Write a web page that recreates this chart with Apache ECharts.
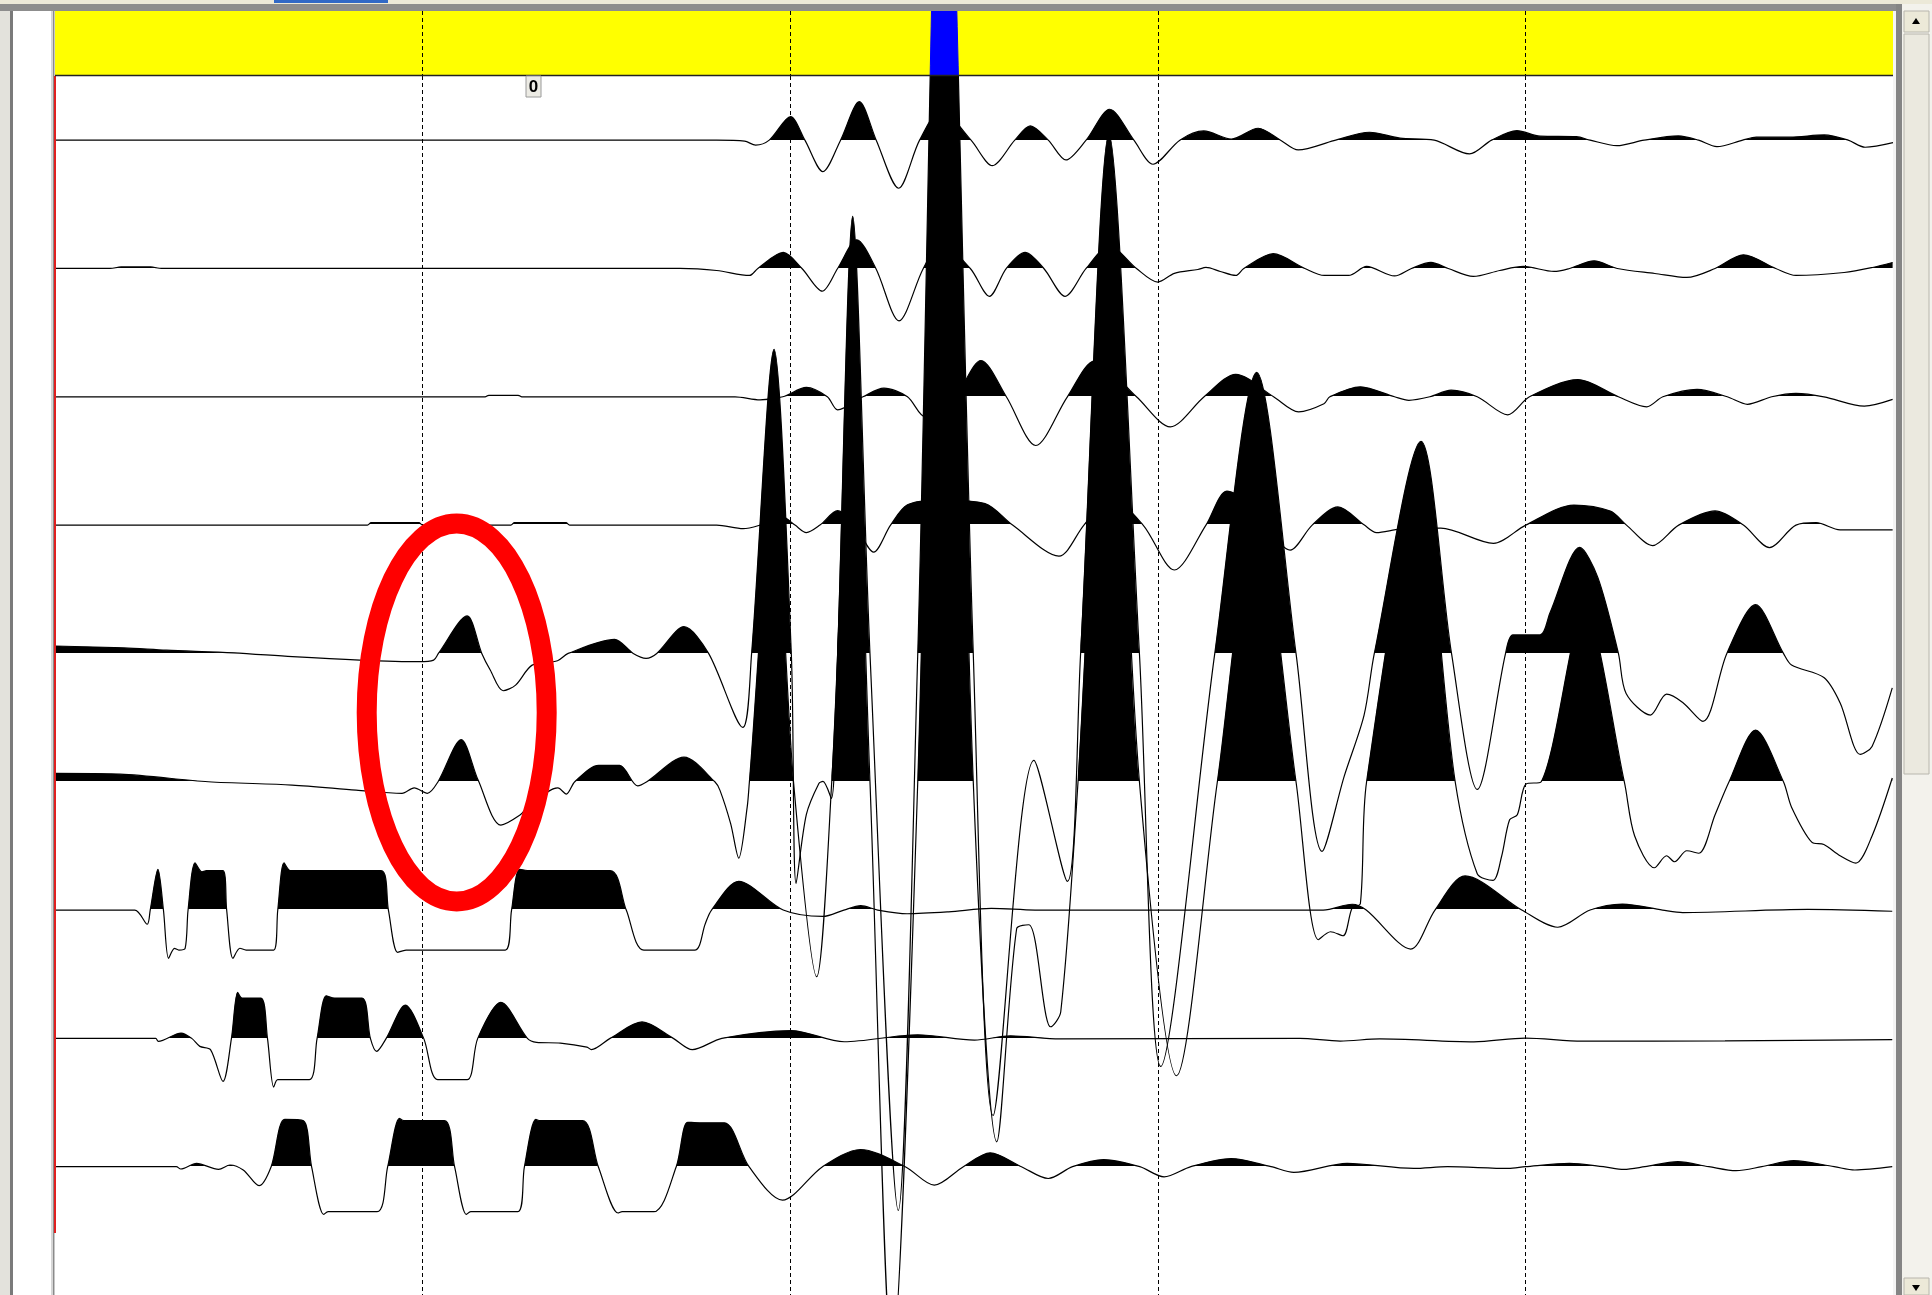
<!DOCTYPE html>
<html><head><meta charset="utf-8">
<script src="https://cdn.jsdelivr.net/npm/echarts@6/dist/echarts.min.js"></script>
<style>html,body{margin:0;padding:0;background:#e6e4da;overflow:hidden}#c{width:1932px;height:1295px}</style>
</head><body><div id="c"></div>
<script>
// ---- axis / layout constants ----
const TIME_MIN = 0, TIME_MAX = 500, TIME_STEP = 100;   // ms, dashed lines every 100 ms
const AMP_PER_TRACE = 128.3;                           // amplitude units per trace spacing
const traceBaselines = [1, 2, 3, 4, 5, 6, 7, 8, 9];
const zeroLabel = '0';

// ---- trace data: [time ms, amplitude] ----
const trace1 = [[0,0],[180,0],[187.6,-1],[190.6,-5],[194.3,0],[200.1,23.5],[204.0,0],[208.9,-31.5],[213.7,0],[218.8,38.5],[223.4,0],[229.5,-48.1],[235.2,0],[241.0,30],[249.2,0],[255.0,-25.5],[261.1,0],[265.3,14.2],[270.2,0],[275.0,-19.8],[280.5,0],[286.9,30.9],[293.5,0],[298.7,-24.1],[306.0,0],[312.5,9.2],[320.0,1],[327.3,11.9],[333.4,0],[338.2,-9.8],[347.9,-0.5],[357.6,7.9],[365.9,2],[375.2,0],[384.8,-13.8],[390.8,0],[397.7,9.5],[404,4],[413.9,3.5],[417.6,0],[424.9,-5.5],[432.3,0],[441.6,4.2],[447.1,0],[452.1,-6.5],[459.1,0],[462.8,3],[472,3],[481.3,5.2],[487.8,0],[492.4,-7.1],[500,-2.5]];
const trace2 = [[0,0],[15,0],[18,1.5],[26,1.5],[29,0],[170,0],[180,-2],[188.9,-7],[191.2,0],[198.1,16],[203.2,0],[208.7,-22.7],[212.9,0],[218.1,28.7],[223.3,0],[229.6,-52.4],[236.2,0],[241.0,25],[249.0,0],[254.2,-27.9],[258.8,0],[263.9,16],[269.0,0],[274.8,-27.9],[280.5,0],[286.8,22.7],[294.2,0],[300.0,-13.6],[304.5,-4.9],[310.9,-1],[313.1,1],[317,-3],[321.2,-7],[323.4,0],[331.4,14.8],[340.0,0],[345.3,-7],[351.9,-7],[356.8,2],[364.4,-7.5],[369,0],[374.3,6],[379,0],[385.8,-8],[393,-2],[399.5,2],[407.8,-3],[412,0],[418.7,7.6],[425,0],[435.2,-5],[443.9,-9],[451.6,0],[459.3,13.6],[468.1,0],[473.6,-7],[486.7,-4],[494.4,1],[499.9,6]];
const trace3 = [[0,0],[117,0],[118,1.5],[126,1.5],[127,0],[185,0],[191.8,-3],[198.0,0],[204.4,9.4],[210.1,0],[212.9,-13],[219.8,0],[225.5,8.6],[231.9,0],[236.7,-20],[244.8,0],[251.9,36.3],[258.8,0],[266.8,-48.7],[275.4,0],[282.9,36],[294.2,0],[303.4,-30.1],[312.6,0],[321.2,22.5],[331.5,0],[338.3,-15.1],[345.2,-7],[346.8,0],[355.1,10],[364.4,0],[368.3,-3.5],[374,0],[379.8,6.6],[386.9,0],[395.2,-18],[401.1,0],[414.3,17.2],[425.3,0],[433.0,-10],[437.4,0],[446.7,7.4],[454.9,0],[460.4,-7.5],[467,0],[473.6,3.4],[481.2,0],[492.2,-9.3],[499.9,-2.6]];
const trace4 = [[0,0],[85,0],[86,2.5],[99,2.5],[100,0],[124,0],[125,2.5],[139,2.5],[140,0],[180,0],[187.2,-3.6],[191.8,0],[198.0,8],[201.3,0],[204.4,-7.5],[208.1,0],[212.9,14.4],[217.6,0],[222.7,-27],[227.3,0],[231.9,20.3],[241.0,25],[253.0,21.5],[260.5,0],[273.1,-31],[279.9,0],[287.0,28],[296.0,0],[304.5,-44.9],[313.1,0],[318.8,34],[324,25],[329.2,0],[336.0,-25],[342.0,0],[349.0,18.2],[356.2,0],[359.5,-7.5],[365.9,-4],[377.0,-3],[391.3,-18.2],[400.1,0],[413.2,20],[423.1,14],[427.5,0],[434.6,-20.5],[441.7,0],[451.6,14.2],[459.3,0],[466.4,-22.5],[473.6,0],[479.1,2.4],[485.6,-4.7],[499.9,-4.7]];
const trace5 = [[0,7.4],[18.8,5.5],[30.3,3.2],[48.6,0.6],[64.6,-3.3],[82.9,-6.7],[99.0,-8.3],[103.0,-6.7],[104.3,0],[112.1,37.5],[116.1,0],[118.4,-16.6],[121.9,-37.3],[125.3,-31.7],[129.8,-11.7],[136.7,-7.3],[139.6,0],[152.2,14],[157.3,0],[160.8,-4.9],[163.7,0],[171.1,26.7],[177.8,0],[187.1,-74],[189.5,0],[195.6,304],[200.3,0],[201.6,-230],[204.4,-161],[207.8,-130],[208.9,-128],[211.2,-145],[212.9,0],[217.0,437],[221.7,0],[229.4,-557],[234.7,0],[241.7,990],[249.8,0],[255.2,-462],[266.3,-107],[275.4,-228],[279.0,0],[286.7,519],[295.0,0],[300.8,-413],[315.5,0],[326.9,281],[337.6,0],[344.7,-198],[350.7,-123],[356.1,-62],[358.9,0],[371.6,212],[379.9,0],[386.9,-136],[394.6,0],[396.6,18.5],[404.0,18.5],[406.7,40.7],[414.8,106],[419.7,76],[425.3,0],[427.4,-40],[434.0,-61.6],[438.4,-40.7],[442.8,-49],[448.3,-68],[454.8,0],[462.6,48.7],[470.2,0],[472.4,-11.6],[481.2,-24.1],[485.6,-49.3],[491.1,-101],[494.3,-93],[499.8,-34.5]];
const trace6 = [[0,8.4],[17.7,7.6],[41.7,0],[64.5,-3.3],[81.9,-8.4],[94.4,-11.6],[97.7,-6.2],[101.3,-11.6],[104.2,0],[110.5,42.1],[115.1,1.7],[121.3,-43.4],[126.5,-33.3],[128.8,-24.6],[136.8,-6.2],[139.1,-12.3],[141.4,0],[147.9,16.4],[153.6,16.4],[158.5,-4.1],[161.0,0],[171.1,24.6],[179.5,0],[180.9,-8.6],[183.8,-41.9],[186.0,-76.4],[188.3,-25.4],[188.9,0],[195.5,290],[200.9,0],[207.2,-195],[211.3,0],[217.0,419],[221.7,0],[227.7,-579],[234.7,0],[241.7,973],[249.8,0],[256.2,-360],[261.6,-147],[264.9,-143],[269.6,-234],[270.8,-245],[273.6,-230],[278.3,0],[286.7,505],[295.0,0],[305.1,-294],[316.2,0],[326.9,271],[337.6,0],[343.7,-158],[347.0,-150],[350.4,-154],[352.9,-126],[355.1,-122],[356.8,0],[371.1,283],[380.9,0],[386.9,-92],[391.2,-98.6],[393.5,-75],[395.7,-38],[397.8,-33],[400.1,-2.5],[404.3,0],[416.1,172],[426.9,0],[429.7,-54],[435.1,-86],[438.4,-74],[440.6,-80],[443.9,-69],[447.2,-71.5],[451.6,-33],[455.4,0],[462.6,51.7],[470.2,0],[472.4,-25.4],[477.9,-60.4],[481.2,-62.8],[485.6,-73.9],[489.9,-81.3],[494.3,-54.2],[499.8,3.7]];
const trace7 = [[0,0],[21.7,0],[25.1,-14.2],[25.9,0],[28.0,40.7],[29.5,0],[30.9,-48.3],[32.5,-38.3],[33.7,-40],[35.4,-38.3],[36.2,0],[38.1,47.3],[40.0,38.2],[41.2,39.4],[45.7,39.4],[46.7,0],[48.4,-48.3],[50.3,-38.2],[52.0,-40],[59.5,-40],[60.6,0],[62.3,47.3],[64.0,39.4],[65.8,39.4],[88.7,39.4],[90.7,0],[93.2,-42.3],[95.5,-40],[122.5,-40],[124.2,0],[126.4,40.7],[129.3,39.4],[151.0,39.4],[155.4,0],[160.2,-40],[174.0,-40],[176.9,-13.6],[178.6,0],[186.0,28.7],[198.1,0],[208.9,-6.4],[214.6,0],[219.2,4.4],[223.8,0],[231.8,-3.7],[243.1,-1.8],[254.7,1.7],[266.6,0],[345,0],[352.9,5.8],[356.7,0],[368.8,-39],[375.4,0],[383.6,34.1],[399.0,0],[408.8,-17.2],[417.6,0],[426.4,6],[437.3,0],[442.8,-2.5],[476.8,0.6],[499.8,-1.2]];
const trace8 = [[0,0],[27.4,0],[28.1,-3],[34.3,5.3],[37.2,0],[39.4,-8],[42.3,-11.3],[45.7,-43],[48.0,0],[49.7,46],[50.9,40.3],[56.0,40.3],[57.8,0],[59.5,-48.7],[60.6,-41.3],[69.2,-41.3],[71.3,0],[73.8,42.6],[76.1,40.3],[83.5,40.3],[85.8,0],[87.5,-13],[90.1,0],[95.3,33.3],[100.3,0],[104.1,-41.3],[112.1,-41.3],[115.0,0],[121.3,36],[128.5,0],[131.0,-4],[137.5,-4.7],[144.7,-8.7],[145.9,-11.3],[151.0,0],[159.7,16.4],[168.2,0],[173.4,-11.3],[181.4,0],[200.3,7.8],[214.7,-3.4],[234.7,3.6],[250.1,-1.8],[259.9,2.5],[273.3,-0.6],[338.6,0],[349.6,-2.7],[360.4,-0.6],[386.0,-3.5],[400,0.3],[415.4,-2.7],[454.3,-2.5],[499.8,-1.2]];
const trace9 = [[0,0],[33.0,0],[34.2,-2.3],[38.5,3.3],[44.5,-2.7],[47.6,1.7],[51.2,-3.3],[55.5,-19],[58.8,0],[62.5,47.3],[67.6,46],[69.8,0],[73.1,-47.7],[74.3,-45],[87.6,-45],[90.5,0],[93.7,48.3],[94.9,46],[105.9,46],[108.7,0],[111.9,-47.7],[113.1,-45],[125.9,-45],[127.7,0],[130.8,47.3],[132.0,46],[143.5,46],[147.8,0],[153.2,-46.3],[154.3,-45],[162.9,-45],[169.0,0],[172.1,44.4],[175.4,43.9],[182.1,43.9],[188.8,0],[197.9,-33.5],[208.8,0],[219.1,17.2],[231.3,0],[239.2,-18.5],[247.1,0],[254.4,13.9],[262.9,0],[270.2,-11.8],[276.8,0],[285.3,7.1],[295.1,0],[301.7,-10.2],[309.0,0],[319.9,8.1],[330.8,0],[337.0,-5.7],[351.5,3.3],[369.6,-1.7],[378.8,0],[395.4,-1.7],[400.0,0],[412.0,3.3],[421.2,0],[426.8,-2.7],[432.5,0],[441.5,5],[449.9,0],[457.3,-4],[464.3,0],[473.0,6],[484.0,0],[489.6,-3.3],[499.8,0]];

const traces = [trace1, trace2, trace3, trace4, trace5, trace6, trace7, trace8, trace9];
const SMOOTH = 0.3;
const EDGE = 0.005;   // keeps the fill edge from bleeding a grey line along each baseline

const chart = echarts.init(document.getElementById('c'), null, {renderer: 'canvas'});
const toXY = (base, tr) => tr.map(p => [p[0], base - p[1] / AMP_PER_TRACE]);

const xAxisBase = (gi) => ({
  type: 'value', gridIndex: gi, min: TIME_MIN, max: TIME_MAX, interval: TIME_STEP,
  axisLine: {show: false}, axisTick: {show: false}, axisLabel: {show: false},
  splitLine: {show: true, showMinLine: false, showMaxLine: false,
    lineStyle: {color: '#000', width: 1, type: [4, 3]}}
});

const areaSeries = traces.map((tr, k) => ({
  type: 'line', xAxisIndex: 0, yAxisIndex: 0, data: toXY(traceBaselines[k], tr),
  smooth: SMOOTH, showSymbol: false, symbol: 'none', silent: true, z: 2,
  lineStyle: {width: 0, opacity: 0},
  areaStyle: {origin: traceBaselines[k], opacity: 1}
}));
const lineSeries = traces.map((tr, k) => ({
  type: 'line', xAxisIndex: 0, yAxisIndex: 0, data: toXY(traceBaselines[k], tr),
  smooth: SMOOTH, showSymbol: false, symbol: 'none', silent: true, z: 3,
  lineStyle: {color: '#000', width: 1.2}
}));
const bandSeries = traces.map((tr, k) => ({
  type: 'line', xAxisIndex: 1, yAxisIndex: 1, data: toXY(traceBaselines[k], tr),
  smooth: SMOOTH, showSymbol: false, symbol: 'none', silent: true, z: 2,
  lineStyle: {color: '#0000ff', width: 1},
  areaStyle: {origin: traceBaselines[k], opacity: 1, color: '#0000ff'}
}));

// black fill above each baseline (smaller y on the inverted axis), nothing below
const visualMaps = traceBaselines.map((b, k) => ({
  type: 'piecewise', show: false, dimension: 1, seriesIndex: k,
  pieces: [{gte: -100, lt: b - EDGE, color: '#000000'}, {gte: b - EDGE, lte: 100, color: 'rgba(255,255,255,0)'}],
  outOfRange: {color: 'rgba(255,255,255,0)'}
}));

const G = (el) => Object.assign({z: 100, silent: true}, el);

chart.setOption({
  animation: false,
  backgroundColor: '#e6e4da',
  grid: [
    {left: 55, right: 39, top: 76, bottom: 0, show: true, backgroundColor: '#ffffff', borderWidth: 0},
    {left: 55, right: 39, top: 11, height: 64, show: true, backgroundColor: '#ffff00', borderWidth: 0}
  ],
  xAxis: [xAxisBase(0), xAxisBase(1)],
  yAxis: [
    {type: 'value', gridIndex: 0, inverse: true, min: 0.5, max: 10, show: false},
    {type: 'value', gridIndex: 1, inverse: true, min: 0, max: 0.5, show: false}
  ],
  visualMap: visualMaps,
  series: [...areaSeries, ...lineSeries, ...bandSeries],
  graphic: {elements: [
    G({type: 'rect', shape: {x: 0, y: 0, width: 1932, height: 4}, style: {fill: '#ece9d8'}}),
    G({type: 'rect', shape: {x: 274, y: 0, width: 114, height: 3}, style: {fill: '#3169c6'}}),
    G({type: 'rect', shape: {x: 0, y: 4, width: 1932, height: 7}, style: {fill: '#8d8d8d'}}),
    G({type: 'rect', shape: {x: 0, y: 11, width: 10, height: 1284}, style: {fill: '#e3e2dc'}}),
    G({type: 'rect', shape: {x: 10, y: 11, width: 3, height: 1284}, style: {fill: '#7a7a7a'}}),
    G({type: 'rect', shape: {x: 13, y: 11, width: 38, height: 1284}, style: {fill: '#ffffff'}}),
    G({type: 'rect', shape: {x: 51, y: 11, width: 4, height: 1284}, style: {fill: '#d6d6d6'}}),
    G({type: 'rect', shape: {x: 53, y: 11, width: 1.2, height: 1284}, style: {fill: '#8a8a8a'}}),
    G({type: 'line', shape: {x1: 55, y1: 76, x2: 55, y2: 1233}, style: {stroke: '#e02020', lineWidth: 2}}),
    G({type: 'line', shape: {x1: 55, y1: 75.5, x2: 1893, y2: 75.5}, style: {stroke: '#222', lineWidth: 1.5}}),
    G({type: 'rect', shape: {x: 1893, y: 11, width: 3, height: 1284}, style: {fill: '#f4f4f4'}}),
    G({type: 'rect', shape: {x: 1896, y: 4, width: 6, height: 1291}, style: {fill: '#858585'}}),
    G({type: 'rect', shape: {x: 1902, y: 4, width: 30, height: 1291}, style: {fill: '#f3f2ec'}}),
    G({type: 'rect', shape: {x: 1904, y: 11, width: 25, height: 21}, style: {fill: '#ece9d8', stroke: '#b8b6ad', lineWidth: 1}}),
    G({type: 'polygon', shape: {points: [[1912, 24], [1920, 24], [1916, 18]]}, style: {fill: '#000'}}),
    G({type: 'rect', shape: {x: 1904, y: 34, width: 25, height: 740}, style: {fill: '#ebe9df', stroke: '#b8b6ad', lineWidth: 1}}),
    G({type: 'rect', shape: {x: 1904, y: 1278, width: 25, height: 17}, style: {fill: '#ece9d8', stroke: '#b8b6ad', lineWidth: 1}}),
    G({type: 'polygon', shape: {points: [[1912, 1285], [1920, 1285], [1916, 1291]]}, style: {fill: '#000'}}),
    G({type: 'rect', shape: {x: 526, y: 76, width: 15, height: 21}, style: {fill: '#ecebe4', stroke: '#9a9a9a', lineWidth: 1}}),
    G({type: 'text', x: 533.5, y: 87, style: {text: zeroLabel, fill: '#000', font: 'bold 17px "Liberation Sans", Arial, sans-serif', align: 'center', verticalAlign: 'middle'}}),
    G({type: 'ellipse', shape: {cx: 456.7, cy: 712.5, rx: 90, ry: 189}, style: {fill: 'none', stroke: '#ff0000', lineWidth: 20}})
  ]}
});
</script>
</body></html>
